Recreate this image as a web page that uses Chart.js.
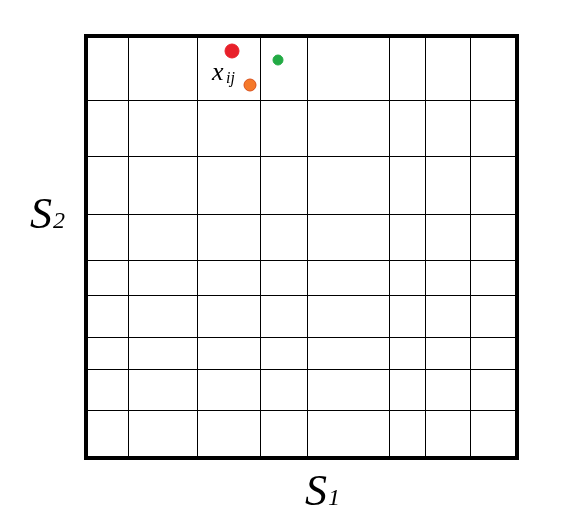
<!DOCTYPE html>
<html><head><script src="https://cdn.jsdelivr.net/npm/chart.js@4"></script>
<style>body{margin:0;background:#fff}#wrap{width:567px;height:532px}</style></head>
<body><div id="wrap"><canvas id="c"></canvas></div>
<script>
// grid line positions (units measured from left / bottom of the box)
const xCuts = [42, 111, 174, 221, 303, 339, 384];
const yCuts = [48, 89, 121, 163, 198, 244, 302, 357];
const xMax = 431, yMax = 422;
const points = [
  { x: 146, y: 407, color: "#e8202a", r: 7 },
  { x: 164, y: 373, color: "#f5792a", r: 6 },
  { x: 192, y: 398, color: "#22aa44", r: 5 },
];

const frame = {
  id: "frame",
  afterDraw(chart) {
    const { ctx, chartArea: a } = chart;
    ctx.save();
    ctx.strokeStyle = "#000";
    ctx.lineWidth = 4;
    ctx.strokeRect(a.left, a.top, a.right - a.left, a.bottom - a.top);
    ctx.fillStyle = "#000";
    ctx.font = "italic 44px 'Liberation Serif', serif";
    ctx.textBaseline = "alphabetic";
    ctx.fillText("S", 305, 505);
    ctx.fillText("S", 30, 228);
    ctx.font = "italic 24px 'Liberation Serif', serif";
    ctx.fillText("1", 328, 505);
    ctx.fillText("2", 53, 228);
    ctx.font = "italic 26px 'Liberation Serif', serif";
    ctx.fillText("x", 212, 80);
    ctx.font = "italic 16px 'Liberation Serif', serif";
    ctx.fillText("ij", 226, 83);
    ctx.restore();
  },
};

const gridOpts = (cuts) => ({
  grid: { color: "#000", lineWidth: 1, drawTicks: false },
  border: { display: false },
  ticks: { display: false },
  afterBuildTicks: (s) => { s.ticks = cuts.map((v) => ({ value: v })); },
});

new Chart(document.getElementById("c"), {
  type: "scatter",
  data: {
    datasets: [{
      data: points.map((p) => ({ x: p.x, y: p.y })),
      backgroundColor: points.map((p) => p.color),
      borderColor: ["#e8202a", "#d9501a", "#22aa44"],
      borderWidth: 1,
      pointRadius: points.map((p) => p.r),
    }],
  },
  options: {
    responsive: true,
    maintainAspectRatio: false,
    animation: false,
    layout: { padding: { left: 86, right: 50, top: 36, bottom: 74 } },
    plugins: { legend: { display: false }, tooltip: { enabled: false } },
    scales: {
      x: { type: "linear", min: 0, max: xMax, ...gridOpts(xCuts) },
      y: { type: "linear", min: 0, max: yMax, ...gridOpts(yCuts) },
    },
  },
  plugins: [frame],
});
</script></body></html>
